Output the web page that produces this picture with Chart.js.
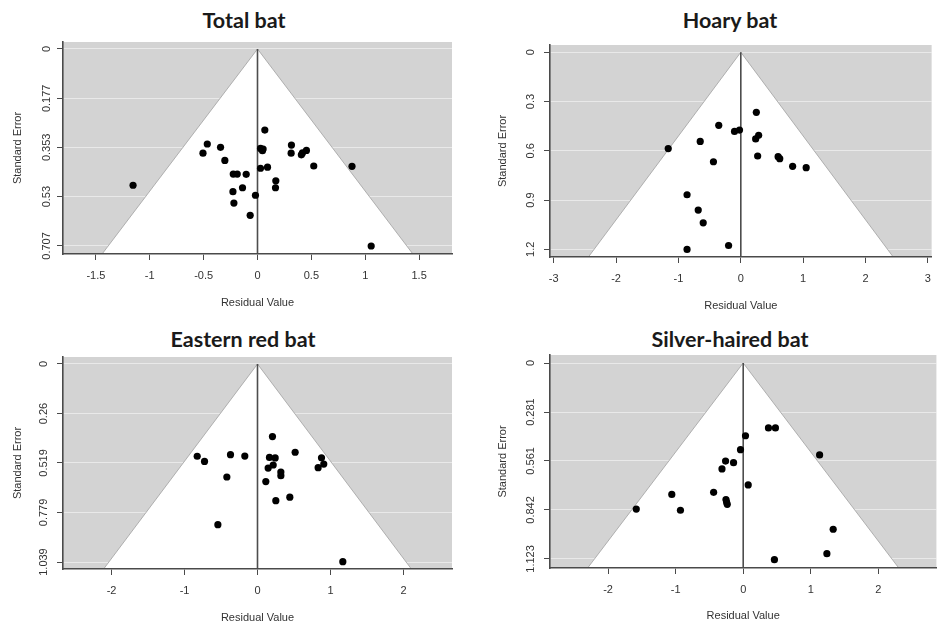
<!DOCTYPE html>
<html><head><meta charset="utf-8">
<script src="https://cdn.jsdelivr.net/npm/chart.js@4.4.1/dist/chart.umd.min.js"></script>
<style>
html,body{margin:0;padding:0;background:#fff;}
body{width:940px;height:629px;position:relative;overflow:hidden;}
canvas{position:absolute;}
.ttl{position:absolute;width:400px;text-align:center;font-family:Lato,'Open Sans',sans-serif;font-weight:700;font-size:21.5px;line-height:21px;color:#1a1a1a;}
</style></head><body>
<div class="ttl" style="left:44px;top:10px">Total bat</div>
<div class="ttl" style="left:530px;top:10px">Hoary bat</div>
<div class="ttl" style="left:43px;top:329px">Eastern red bat</div>
<div class="ttl" style="left:530px;top:329px">Silver-haired bat</div>
<canvas id="c1" width="470" height="314" style="left:0;top:0"></canvas>
<canvas id="c2" width="470" height="314" style="left:470px;top:0"></canvas>
<canvas id="c3" width="470" height="315" style="left:0;top:314px"></canvas>
<canvas id="c4" width="470" height="315" style="left:470px;top:314px"></canvas>
<script>
// ---- data (residual value, standard error) ----
const totalResid = [-1.155,-0.466,-0.506,-0.343,-0.303,-0.225,-0.188,-0.105,-0.228,-0.139,-0.219,-0.019,-0.068,0.068,0.028,0.052,0.046,0.028,0.093,0.170,0.167,0.315,0.312,0.407,0.417,0.454,0.522,0.877,1.055];
const totalSE    = [0.489,0.341,0.374,0.353,0.400,0.449,0.449,0.450,0.512,0.498,0.553,0.525,0.597,0.291,0.357,0.359,0.365,0.428,0.424,0.473,0.498,0.345,0.374,0.380,0.373,0.364,0.420,0.421,0.707];

const hoaryResid = [-1.164,-0.651,-0.354,-0.439,-0.101,-0.021,0.249,0.238,0.286,0.270,0.598,0.624,0.831,1.048,-0.862,-0.683,-0.603,-0.196,-0.862];
const hoarySE    = [0.587,0.543,0.445,0.667,0.482,0.474,0.366,0.528,0.506,0.632,0.636,0.648,0.695,0.703,0.868,0.961,1.039,1.177,1.201];

const redResid = [-0.826,-0.726,-0.370,-0.174,-0.420,-0.543,0.205,0.164,0.242,0.215,0.146,0.320,0.320,0.114,0.516,0.877,0.908,0.831,0.443,0.251,1.169];
const redSE    = [0.484,0.511,0.476,0.483,0.593,0.843,0.381,0.490,0.493,0.530,0.546,0.567,0.586,0.617,0.463,0.492,0.525,0.544,0.699,0.717,1.037];

const silverResid = [-1.583,-1.057,-0.929,-0.438,-0.255,-0.246,-0.236,-0.314,-0.261,-0.143,-0.040,0.034,0.074,0.374,0.477,1.131,1.332,1.239,0.462];
const silverSE    = [0.837,0.753,0.844,0.741,0.783,0.797,0.810,0.607,0.562,0.571,0.497,0.417,0.699,0.372,0.372,0.527,0.953,1.093,1.127];

// ---- tick values and labels ----
const totalYTicks = [0,0.177,0.353,0.53,0.707];
const totalYLabels = ['0','0.177','0.353','0.53','0.707'];
const totalXTicks = [-1.5,-1,-0.5,0,0.5,1,1.5];
const totalXLabels = ['-1.5','-1','-0.5','0','0.5','1','1.5'];

const hoaryYTicks = [0,0.3,0.6,0.9,1.2];
const hoaryYLabels = ['0','0.3','0.6','0.9','1.2'];
const hoaryXTicks = [-3,-2,-1,0,1,2,3];
const hoaryXLabels = ['-3','-2','-1','0','1','2','3'];

const redYTicks = [0,0.26,0.519,0.779,1.039];
const redYLabels = ['0','0.26','0.519','0.779','1.039'];
const redXTicks = [-2,-1,0,1,2];
const redXLabels = ['-2','-1','0','1','2'];

const silverYTicks = [0,0.281,0.561,0.842,1.123];
const silverYLabels = ['0','0.281','0.561','0.842','1.123'];
const silverXTicks = [-2,-1,0,1,2];
const silverXLabels = ['-2','-1','0','1','2'];

const xTitle = 'Residual Value';
const yTitle = 'Standard Error';

// ---- drawing ----
const FONT = "'Liberation Sans', Arial, sans-serif";
const bgPlugin = {
  id: 'grayBg',
  beforeDraw(chart) {
    const {ctx, chartArea: a} = chart;
    ctx.save();
    ctx.fillStyle = '#d3d3d3';
    ctx.fillRect(a.left, a.top, a.right - a.left, a.bottom - a.top);
    ctx.restore();
  }
};

function makePanel(id, o) {
  const pts = o.resid.map((v, i) => ({x: v, y: o.se[i]}));
  const b = o.ymax;
  new Chart(document.getElementById(id), {
    type: 'scatter',
    data: {
      datasets: [
        {label: 'studies', data: pts, order: 1, pointRadius: 3.6, pointBackgroundColor: '#000', pointBorderWidth: 0, pointHoverRadius: 3.6},
        {type: 'line', label: 'zero', data: [{x: 0, y: 0}, {x: 0, y: b}], order: 2, borderColor: '#4d4d4d', borderWidth: 1.6, pointRadius: 0, fill: false},
        {type: 'line', label: 'funnel', data: [{x: -1.96 * b, y: b}, {x: 0, y: 0}, {x: 1.96 * b, y: b}], order: 3,
         borderColor: 'rgba(160,160,160,0.8)', borderWidth: 1, pointRadius: 0, tension: 0,
         fill: {value: b}, backgroundColor: '#ffffff'}
      ]
    },
    options: {
      responsive: false, animation: false, events: [],
      layout: {padding: {left: 0, top: o.plot.t, right: o.w - o.plot.r, bottom: 0}},
      plugins: {legend: {display: false}, tooltip: {enabled: false}},
      scales: {
        x: {
          type: 'linear', min: -o.xr, max: o.xr,
          afterBuildTicks: s => { s.ticks = o.xTicks.map(v => ({value: v})); },
          afterFit: s => { s.height = o.h - o.plot.b; },
          ticks: {minRotation: 0, maxRotation: 0, padding: 9, font: {family: FONT, size: 11}, color: '#333',
                  callback: (v, i) => o.xLabels[i]},
          grid: {drawOnChartArea: false, color: '#4a4a4a', tickLength: 6},
          border: {display: true, color: '#4a4a4a', width: 1.6, z: 1},
          title: {display: true, text: xTitle, font: {family: FONT, size: 11}, color: '#333',
                  padding: {top: 0, bottom: o.xTitlePad}}
        },
        y: {
          type: 'linear', reverse: true, min: o.ymin, max: o.ymax,
          afterBuildTicks: s => { s.ticks = o.yTicks.map(v => ({value: v})); },
          afterFit: s => { s.width = o.plot.l; },
          ticks: {minRotation: 90, maxRotation: 90, crossAlign: 'center', padding: o.yPad,
                  font: {family: FONT, size: 11}, color: '#333', callback: (v, i) => o.yLabels[i]},
          grid: {color: 'rgba(255,255,255,0.5)', tickColor: '#4a4a4a', tickLength: 6, lineWidth: 1},
          border: {display: true, color: '#4a4a4a', width: 1.6, z: 1},
          title: {display: true, text: yTitle, font: {family: FONT, size: 11}, color: '#333',
                  padding: {top: o.yTitlePad, bottom: 0}}
        }
      }
    },
    plugins: [bgPlugin]
  });
}

makePanel('c1', {resid: totalResid, se: totalSE, yTicks: totalYTicks, yLabels: totalYLabels, xTicks: totalXTicks, xLabels: totalXLabels,
  w: 470, h: 314, plot: {l: 63, r: 452, t: 42, b: 254}, xr: 1.805, ymin: -0.0251, ymax: 0.7358, yPad: -3.5, yTitlePad: 11.4, xTitlePad: 4.4});
makePanel('c2', {resid: hoaryResid, se: hoarySE, yTicks: hoaryYTicks, yLabels: hoaryYLabels, xTicks: hoaryXTicks, xLabels: hoaryXLabels,
  w: 470, h: 314, plot: {l: 80, r: 465, t: 45, b: 257}, xr: 3.06, ymin: -0.044, ymax: 1.247, yPad: 5.35, yTitlePad: 26.4, xTitlePad: 1.4});
makePanel('c3', {resid: redResid, se: redSE, yTicks: redYTicks, yLabels: redYLabels, xTicks: redXTicks, xLabels: redXLabels,
  w: 470, h: 315, plot: {l: 63, r: 452, t: 43, b: 255}, xr: 2.665, ymin: -0.0367, ymax: 1.0756, yPad: -0.76, yTitlePad: 11.4, xTitlePad: 4.4});
makePanel('c4', {resid: silverResid, se: silverSE, yTicks: silverYTicks, yLabels: silverYLabels, xTicks: silverXTicks, xLabels: silverXLabels,
  w: 470, h: 315, plot: {l: 80, r: 468, t: 41, b: 254}, xr: 2.86, ymin: -0.046, ymax: 1.175, yPad: -0.76, yTitlePad: 26.4, xTitlePad: 6.4});
</script>
</body></html>
